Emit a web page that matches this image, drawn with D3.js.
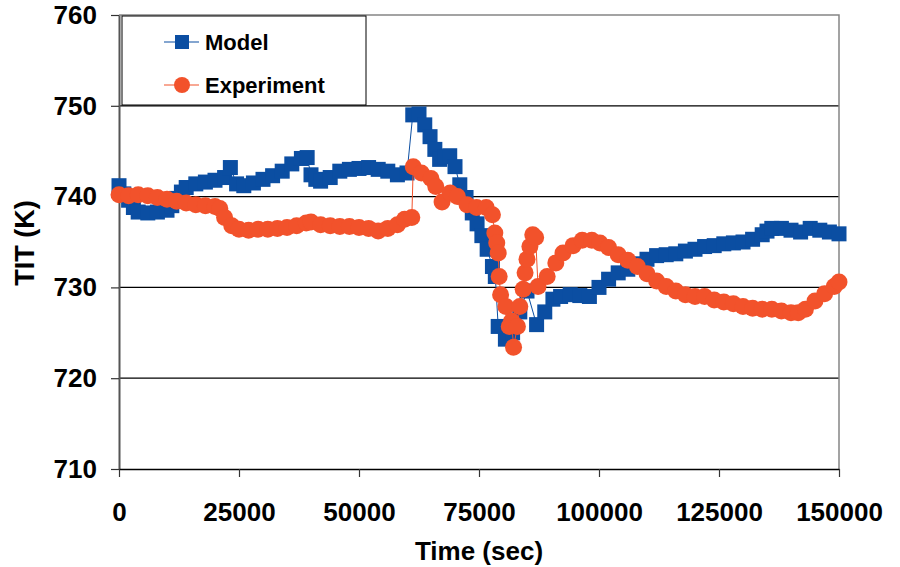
<!DOCTYPE html>
<html>
<head>
<meta charset="utf-8">
<script src="https://cdn.jsdelivr.net/npm/d3@7"></script>
<style>
  body { margin: 0; background: #fff; }
  svg { display: block; font-family: "Liberation Sans", Arial, sans-serif; font-weight: bold; }
</style>
</head>
<body>
<svg width="900" height="567"></svg>
<script>
// Model (blue squares)
const modelTime = [0, 1000, 2000, 3000, 4000, 6000, 8000, 10000, 11000, 12000, 13000, 14000, 16000, 18000, 20000, 22000, 23200, 24500,
  26000, 28000, 30000, 32000, 34000, 36000, 38000, 39200, 40000, 41000, 42000, 44000, 46000, 48000, 50000, 52000,
  54000, 56000, 58000, 60000, 61200, 62500, 63700, 64800, 65800, 66800, 67900, 68900, 70000, 71000, 72300,
  73600, 74600, 75600, 76700, 77800, 78400, 79000, 80500, 82000, 83500, 85000, 87000, 88700, 90400, 92000,
  94000, 96000, 98000, 100000, 102000, 104000, 106000, 108000, 110000, 112000, 114000, 116000, 118000,
  120000, 122000, 124000, 126000, 128000, 130000, 132000, 134000, 135000, 136000, 138000, 140000, 142000, 144000,
  146000, 148000, 150000];
const modelTemp = [741.2, 740.3, 739.6, 738.8, 738.3, 738.2, 738.3, 738.5, 739.0, 739.8, 740.5, 741.0, 741.4, 741.6, 741.8, 742.1, 743.2, 741.4,
  741.2, 741.5, 741.9, 742.3, 742.8, 743.6, 744.2, 744.3, 742.4, 741.9, 741.7, 742.1, 742.8, 743.0, 743.1, 743.2,
  743.0, 742.8, 742.4, 742.6, 749.0, 749.1, 747.9, 746.6, 745.2, 744.1, 744.4, 744.5, 743.3, 741.3, 739.9,
  738.2, 737.0, 735.7, 734.2, 732.3, 731.2, 725.7, 724.3, 725.0, 727.3, 729.6, 725.9, 727.3, 728.7, 729.0,
  729.2, 729.1, 729.0, 730.0, 730.9, 731.6, 732.0, 732.6, 733.1, 733.5, 733.6, 733.7, 734.0,
  734.2, 734.5, 734.6, 734.8, 734.9, 735.0, 735.3, 735.8, 736.2, 736.5, 736.5, 736.3, 736.1, 736.5,
  736.3, 736.1, 735.9];

// Experiment (orange circles)
const expTime = [0, 2000, 4000, 6000, 8000, 10000, 12000, 14000, 16000, 18000, 20000, 21000, 22000, 23500,
  25000, 27000, 29000, 31000, 33000, 35000, 37000, 39000, 40000, 42000, 44000, 46000, 48000, 50000, 52000,
  54000, 56000, 58000, 59500, 61000, 61300, 63000, 65000, 66000, 67300, 69000, 70500, 72500, 74500, 76500,
  77800, 78300, 78700, 79000, 79200, 79500, 80600, 81300, 81800, 82200, 83000, 83500, 84200, 84600, 85000,
  85600, 86200, 86800, 87300, 89200, 91000, 92500, 94600, 96500, 98500, 100200, 102000, 104000, 106000,
  108000, 110000, 112000, 114000, 116000, 118000, 120000, 122000, 124000, 126000, 128000, 130000, 132000,
  134000, 136000, 138000, 140000, 141500, 143000, 145000, 147000, 149000, 150000];
const expTemp = [740.2, 740.1, 740.2, 740.1, 739.9, 739.7, 739.5, 739.3, 739.1, 739.0, 738.9, 738.7, 737.7, 736.8,
  736.4, 736.3, 736.4, 736.4, 736.5, 736.6, 736.8, 737.1, 737.2, 736.9, 736.8, 736.7, 736.7, 736.6, 736.5,
  736.2, 736.5, 736.9, 737.5, 737.7, 743.3, 742.6, 742.0, 741.1, 739.4, 740.4, 740.0, 739.1, 738.8, 738.8,
  738.0, 736.0, 734.9, 733.8, 731.2, 729.2, 727.9, 725.7, 726.3, 723.4, 725.7, 727.9, 729.8, 731.6, 733.1,
  734.5, 735.8, 735.5, 730.1, 731.2, 732.7, 733.8, 734.6, 735.2, 735.2, 734.9, 734.4, 733.6, 733.0,
  732.3, 731.5, 730.7, 730.1, 729.6, 729.2, 729.0, 729.0, 728.6, 728.4, 728.2, 727.9, 727.7,
  727.6, 727.6, 727.4, 727.2, 727.2, 727.6, 728.5, 729.3, 730.1, 730.6];

const yTicks = [710, 720, 730, 740, 750, 760];
const xTicks = [0, 25000, 50000, 75000, 100000, 125000, 150000];
const seriesNames = ['Model', 'Experiment'];

const blue = '#0b4ea2';
const orange = '#f2522b';

const svg = d3.select('svg');

const x = d3.scaleLinear().domain([0, 150000]).range([119, 839]);
const y = d3.scaleLinear().domain([710, 760]).range([469, 15]);

// gridlines
svg.append('g')
  .selectAll('line')
  .data(yTicks.filter(d => d > 710 && d < 760))
  .enter().append('line')
    .attr('x1', x(0)).attr('x2', x(150000))
    .attr('y1', d => y(d)).attr('y2', d => y(d))
    .attr('stroke', '#000').attr('stroke-width', 1.2);

// plot border (top & right)
svg.append('path')
  .attr('d', `M${x(0)},${y(760)}H${x(150000)}V${y(710)}`)
  .attr('fill', 'none')
  .attr('stroke', '#858585')
  .attr('stroke-width', 1.5);

const yAxis = svg.append('g')
  .attr('transform', `translate(${x(0)},0)`)
  .call(d3.axisLeft(y).tickValues(yTicks).tickSize(8).tickSizeOuter(0).tickPadding(14).tickFormat(d3.format('d')));
yAxis.select('.domain').attr('stroke', '#555').attr('stroke-width', 2);
yAxis.selectAll('.tick line').attr('stroke', '#333').attr('stroke-width', 1.2);

const xAxis = svg.append('g')
  .attr('transform', `translate(0,${y(710)})`)
  .call(d3.axisBottom(x).tickValues(xTicks).tickSize(8).tickSizeOuter(0).tickPadding(26).tickFormat(d3.format('d')));
xAxis.select('.domain').attr('stroke', '#000').attr('stroke-width', 1.5);
xAxis.selectAll('.tick line').attr('stroke', '#333').attr('stroke-width', 1.2);

svg.selectAll('.tick text')
  .attr('font-family', '"Liberation Sans", Arial, sans-serif')
  .attr('font-weight', 'bold')
  .attr('font-size', 26)
  .attr('fill', '#000');

// axis titles
svg.append('text')
  .attr('x', 479).attr('y', 560)
  .attr('text-anchor', 'middle')
  .attr('font-size', 26)
  .text('Time (sec)');

svg.append('text')
  .attr('transform', 'translate(34,243) rotate(-90)')
  .attr('text-anchor', 'middle')
  .attr('font-size', 27)
  .text('TIT (K)');

// series
const model = modelTime.map((t, i) => ({t: t, v: modelTemp[i]}));
const experiment = expTime.map((t, i) => ({t: t, v: expTemp[i]}));

const line = d3.line().x(d => x(d.t)).y(d => y(d.v));

const sq = 15;
svg.append('path')
  .datum(model)
  .attr('d', line)
  .attr('fill', 'none')
  .attr('stroke', blue)
  .attr('stroke-width', 1);
svg.append('g')
  .selectAll('rect')
  .data(model)
  .enter().append('rect')
    .attr('x', d => x(d.t) - sq / 2)
    .attr('y', d => y(d.v) - sq / 2)
    .attr('width', sq).attr('height', sq)
    .attr('fill', blue);

svg.append('path')
  .datum(experiment)
  .attr('d', line)
  .attr('fill', 'none')
  .attr('stroke', orange)
  .attr('stroke-width', 1);
svg.append('g')
  .selectAll('circle')
  .data(experiment)
  .enter().append('circle')
    .attr('cx', d => x(d.t))
    .attr('cy', d => y(d.v))
    .attr('r', 8.5)
    .attr('fill', orange);

// legend
const legend = svg.append('g');
legend.append('rect')
  .attr('x', 122).attr('y', 16)
  .attr('width', 244).attr('height', 89)
  .attr('fill', '#fff')
  .attr('stroke', '#000')
  .attr('stroke-width', 1);

const rowY = [42, 85];
const colors = [blue, orange];
seriesNames.forEach((name, i) => {
  legend.append('line')
    .attr('x1', 164).attr('x2', 199)
    .attr('y1', rowY[i]).attr('y2', rowY[i])
    .attr('stroke', colors[i]).attr('stroke-width', 1.2);
  if (i === 0) {
    legend.append('rect')
      .attr('x', 182 - 7).attr('y', rowY[i] - 7)
      .attr('width', 14).attr('height', 14)
      .attr('fill', colors[i]);
  } else {
    legend.append('circle')
      .attr('cx', 182).attr('cy', rowY[i]).attr('r', 8)
      .attr('fill', colors[i]);
  }
  legend.append('text')
    .attr('x', 205).attr('y', rowY[i] + 8)
    .attr('font-size', 22)
    .text(name);
});
</script>
</body>
</html>
